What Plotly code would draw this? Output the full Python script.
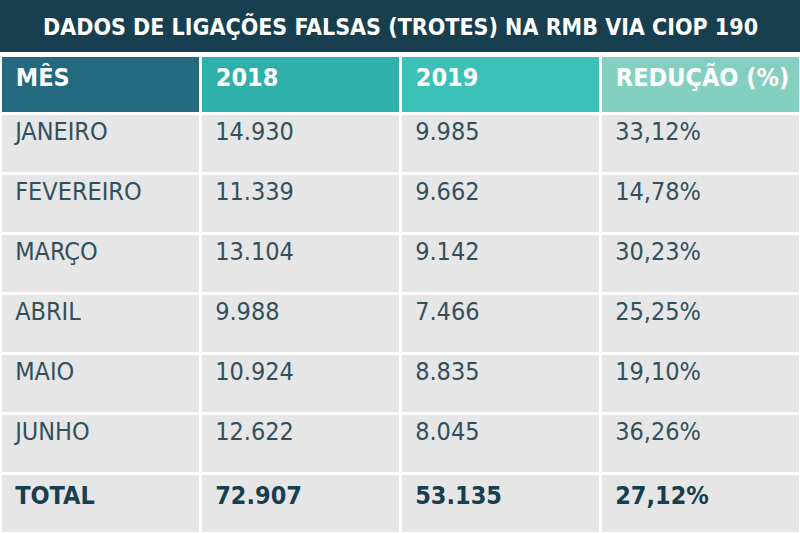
import plotly.graph_objects as go

titulo = "DADOS DE LIGAÇÕES FALSAS (TROTES) NA RMB VIA CIOP 190"
cabecalho = ["MÊS", "2018", "2019", "REDUÇÃO (%)"]
meses = ["JANEIRO", "FEVEREIRO", "MARÇO", "ABRIL", "MAIO", "JUNHO", "TOTAL"]
v2018 = ["14.930", "11.339", "13.104", "9.988", "10.924", "12.622", "72.907"]
v2019 = ["9.985", "9.662", "9.142", "7.466", "8.835", "8.045", "53.135"]
reducao = ["33,12%", "14,78%", "30,23%", "25,25%", "19,10%", "36,26%", "27,12%"]

FONT = "DejaVu Sans Condensed, Roboto, sans-serif"

def fmt(col):
    return [f"<b>{v}</b>" if i == len(col) - 1 else v for i, v in enumerate(col)]

cols = [fmt(c) for c in (meses, v2018, v2019, reducao)]
fc = ["#31505c"] * (len(meses) - 1) + ["#173f4f"]
pad = "\u00a0"

fig = go.Figure(go.Table(
    domain=dict(x=[0, 1], y=[0, 1 - 55 / 533]),
    columnwidth=[1, 1, 1, 1],
    header=dict(
        values=["<b>" + pad + h.replace(" ", pad) + "</b>" for h in cabecalho],
        fill_color=["#236a80", "#2fb0ab", "#3cc1b8", "#84d0c0"],
        line=dict(color="white", width=3),
        align="left", height=58,
        font=dict(family=FONT, size=25, color="white"),
    ),
    cells=dict(
        values=cols,
        fill_color="#e6e6e7",
        line=dict(color="white", width=3),
        align="left", height=60, prefix=pad,
        font=dict(family=FONT, size=25, color=[fc] * 4),
    ),
))
fig.add_shape(type="rect", xref="paper", yref="paper", x0=0, x1=1, y0=1 - 52 / 533, y1=1,
              fillcolor="#173f4f", line_width=0, layer="below")
fig.add_annotation(text=f"<b>{titulo}</b>", xref="paper", yref="paper", x=0.5, y=1 - 26 / 533,
                   xanchor="center", yanchor="middle",
                   showarrow=False, font=dict(family=FONT, size=23, color="white"))
fig.update_layout(width=800, height=533, margin=dict(l=0, r=0, t=0, b=0),
                  paper_bgcolor="white")
fig.write_html("out.html", config={"displayModeBar": False},
               post_script="document.body.style.margin='0';")
